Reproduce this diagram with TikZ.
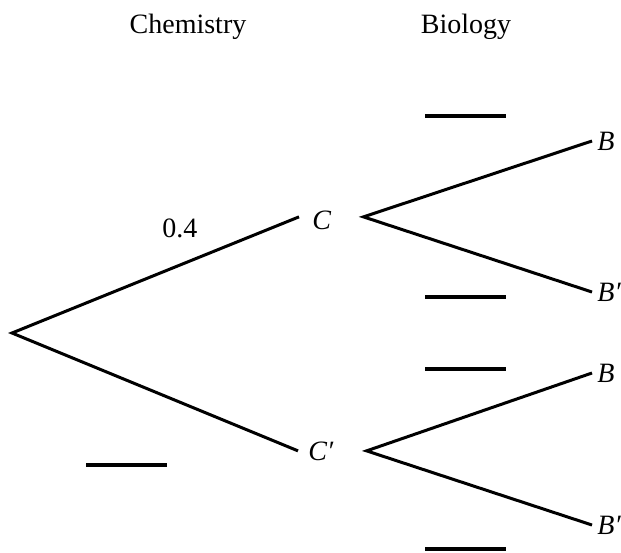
\documentclass[tikz,border=0pt]{standalone}
\usepackage{fontspec}
\setmainfont{Liberation Serif}
\usetikzlibrary{positioning}

\begin{document}
\begin{tikzpicture}[
  x=0.5pt, y=-0.5pt,
  head/.style={font=\fontsize{14}{16}\selectfont, anchor=base, inner sep=0pt},
  prob/.style={font=\fontsize{14}{16}\selectfont, anchor=base west, inner sep=0pt},
  event/.style={font=\fontsize{14}{16}\selectfont\itshape, anchor=base west,
                inner sep=0pt},
  leaf/.style={event, anchor=west, inner xsep=2.5pt},
  branch/.style={line width=1.5pt},
  blank/.style={line width=1.65pt},
]
\useasboundingbox (0,0) rectangle (621,552);

% ---- column headings ----
\node[head] (chem) at (188,33) {Chemistry};
\node[head] (bio)  at (466,33) {Biology};

% ---- chemistry stage ----
\coordinate (root) at (12,333);
\node[event] (c)  at (312,229) {C};
\node[event] (cp) at (308,460) {C′};
\coordinate[left=6.5pt of c, yshift=1.5pt]  (c-in);
\coordinate[right=16pt of c, yshift=1.5pt]  (c-out);
\coordinate[left=5pt of cp]    (cp-in);
\coordinate[right=16.5pt of cp] (cp-out);

\node[prob] (p-c) at (162,237) {0.4};

% ---- biology stage ----
\node[leaf] (c-b)   at (592,141) {B};
\node[leaf] (c-bp)  at (592,292) {B′};
\node[leaf] (cp-b)  at (592,373) {B};
\node[leaf] (cp-bp) at (592,525) {B′};

% ---- branches ----
\draw[branch] (c-in) -- (root) -- (cp-in);
\draw[branch] (c-b.west) -- (c-out) -- (c-bp.west);
\draw[branch] (cp-b.west) -- (cp-out) -- (cp-bp.west);

% ---- blanks to fill in ----
\draw[blank] (86,465) -- (167,465);
\foreach \y in {116,297,369,549}
  \draw[blank] (425,\y) -- (506,\y);

\end{tikzpicture}
\end{document}
